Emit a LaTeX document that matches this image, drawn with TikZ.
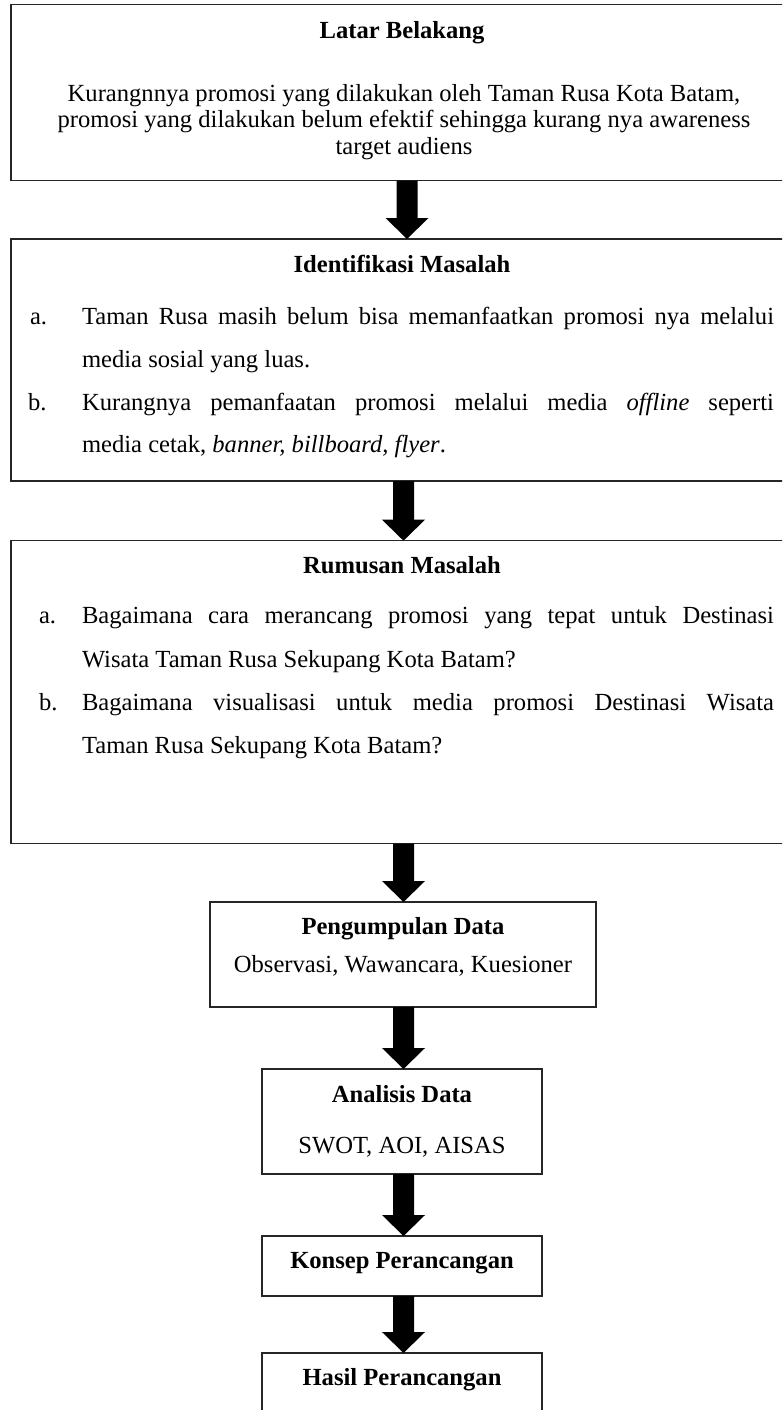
\documentclass[tikz,border=0pt]{standalone}
\usepackage{fontspec}
\setmainfont{Liberation Serif}
\usetikzlibrary{calc}
\tikzset{
  box/.style={draw=black!85, line width=1.3pt, rectangle, inner sep=0pt, outer sep=0pt},
  txt/.style={inner sep=0pt, outer sep=0pt, font=\fontsize{24.6}{26.5}\selectfont},
  headtxt/.style={txt, font=\fontsize{24.6}{26.5}\selectfont\bfseries, anchor=base},
  ctxt/.style={txt, anchor=base},
  ltxt/.style={txt, anchor=base west},
  arrowfill/.style={fill=black},
}
\newcommand{\blockarrow}[3][0pt]{%
  \fill[arrowfill] let \p1=(#2.south), \p2=($(#3.north)+(#1,0)$) in
    (\x2-10.5pt,\y1) -- (\x2+10.5pt,\y1) -- (\x2+10.5pt,\y2+21pt) -- (\x2+21.5pt,\y2+21pt)
    -- (\x2,\y2) -- (\x2-21.5pt,\y2+21pt) -- (\x2-10.5pt,\y2+21pt) -- cycle;}
\newcommand{\jline}[1]{\makebox[692pt][s]{#1}}
\begin{document}
\begin{tikzpicture}[x=1pt,y=-1pt]
\useasboundingbox (0,0) rectangle (782,1410);
\fill[white] (0,0) rectangle (782,1410);
\clip (0,0) rectangle (782,1410);

% boxes
\node[box, minimum width=792pt, minimum height=176pt] (b1) at (407,92.5) {};
\node[box, minimum width=792pt, minimum height=242pt] (b2) at (407,360) {};
\node[box, minimum width=792pt, minimum height=303pt] (b3) at (407,692.2) {};
\node[box, minimum width=386pt, minimum height=105pt] (b4) at (403,954.5) {};
\node[box, minimum width=280pt, minimum height=105pt] (b5) at (402,1121.5) {};
\node[box, minimum width=280pt, minimum height=60pt] (b6) at (402,1266) {};
\node[box, minimum width=280pt, minimum height=77pt] (b7) at (402,1391.5) {};

% box 1 text
\node[headtxt] (h1) at (402,39) {Latar Belakang};
\node[ctxt] (t1a) at (404,102) {Kurangnnya promosi yang dilakukan oleh Taman Rusa Kota Batam,};
\node[ctxt] (t1b) at (404,128) {promosi yang dilakukan belum efektif sehingga kurang nya awareness};
\node[ctxt] (t1c) at (404,154) {target audiens};

% box 2 text
\node[headtxt] (h2) at (402,272) {Identifikasi Masalah};
\node[ltxt] (l2a) at (30,324) {a.};
\node[ltxt] (t2a) at (82,324) {\jline{Taman Rusa masih belum bisa memanfaatkan promosi nya melalui}};
\node[ltxt] (t2b) at (82,367) {media sosial yang luas.};
\node[ltxt] (l2b) at (28,410) {b.};
\node[ltxt] (t2c) at (82,410) {\jline{Kurangnya pemanfaatan promosi melalui media \textit{offline} seperti}};
\node[ltxt] (t2d) at (82,452) {media cetak, \textit{banner, billboard, flyer}.};

% box 3 text
\node[headtxt] (h3) at (402,573) {Rumusan Masalah};
\node[ltxt] (l3a) at (39,623) {a.};
\node[ltxt] (t3a) at (82,623) {\jline{Bagaimana cara merancang promosi yang tepat untuk Destinasi}};
\node[ltxt] (t3b) at (82,667) {Wisata Taman Rusa Sekupang Kota Batam?};
\node[ltxt] (l3b) at (39,710) {b.};
\node[ltxt] (t3c) at (82,710) {\jline{Bagaimana visualisasi untuk media promosi Destinasi Wisata}};
\node[ltxt] (t3d) at (82,753) {Taman Rusa Sekupang Kota Batam?};

% lower boxes text
\node[headtxt] (h4) at (403,934) {Pengumpulan Data};
\node[ctxt] (t4) at (403,972) {Observasi, Wawancara, Kuesioner};
\node[headtxt] (h5) at (402,1102) {Analisis Data};
\node[ctxt] (t5) at (402,1153) {SWOT, AOI, AISAS};
\node[headtxt] (h6) at (402,1268) {Konsep Perancangan};
\node[headtxt] (h7) at (402,1385) {Hasil Perancangan};

% arrows
\blockarrow{b1}{b2}
\blockarrow[-3.5pt]{b2}{b3}
\blockarrow[0.5pt]{b3}{b4}
\blockarrow[1.5pt]{b4}{b5}
\blockarrow[1.5pt]{b5}{b6}
\blockarrow[1.5pt]{b6}{b7}
\end{tikzpicture}
\end{document}
